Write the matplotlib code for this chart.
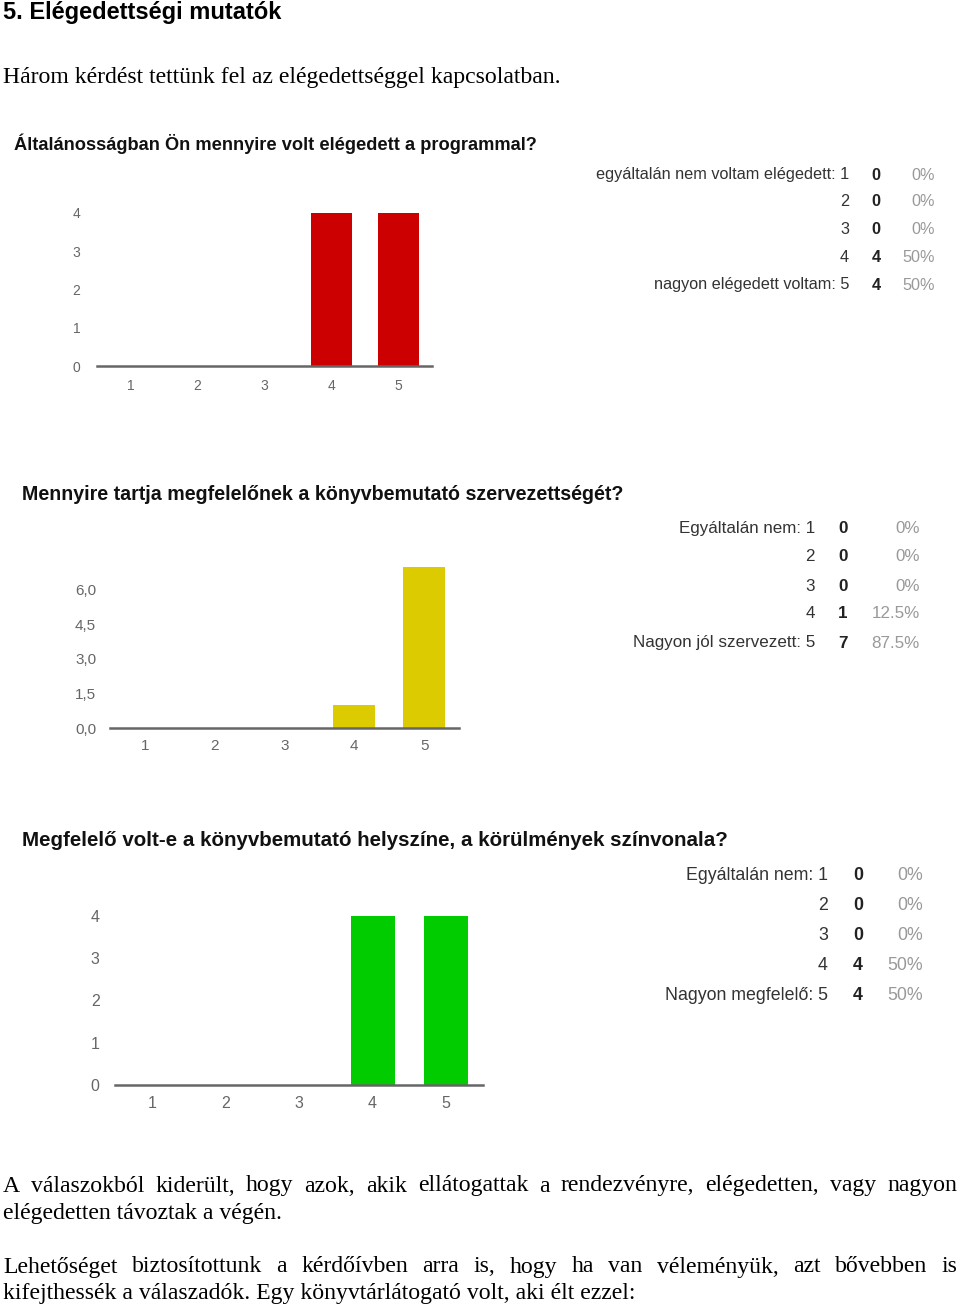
import matplotlib
matplotlib.use("Agg")
import matplotlib.pyplot as plt

# ---------------- data ----------------
heading = "5. Elégedettségi mutatók"
intro = "Három kérdést tettünk fel az elégedettséggel kapcsolatban."

categories = [1, 2, 3, 4, 5]

q1_title = "Általánosságban Ön mennyire volt elégedett a programmal?"
q1_counts = [0, 0, 0, 4, 4]
q1_low = "egyáltalán nem voltam elégedett"
q1_high = "nagyon elégedett voltam"
q1_yticks = [0, 1, 2, 3, 4]
q1_yticklabels = ["0", "1", "2", "3", "4"]

q2_title = "Mennyire tartja megfelelőnek a könyvbemutató szervezettségét?"
q2_counts = [0, 0, 0, 1, 7]
q2_low = "Egyáltalán nem"
q2_high = "Nagyon jól szervezett"
q2_yticks = [0, 1.5, 3, 4.5, 6]
q2_yticklabels = ["0,0", "1,5", "3,0", "4,5", "6,0"]

q3_title = "Megfelelő volt-e a könyvbemutató helyszíne, a körülmények színvonala?"
q3_counts = [0, 0, 0, 4, 4]
q3_low = "Egyáltalán nem"
q3_high = "Nagyon megfelelő"
q3_yticks = [0, 1, 2, 3, 4]
q3_yticklabels = ["0", "1", "2", "3", "4"]

para1 = ["A válaszokból kiderült, hogy azok, akik ellátogattak a rendezvényre, elégedetten, vagy nagyon",
         "elégedetten távoztak a végén."]
para2 = ["Lehetőséget biztosítottunk a kérdőívben arra is, hogy ha van véleményük, azt bővebben is",
         "kifejthessék a válaszadók. Egy könyvtárlátogató volt, aki élt ezzel:"]

# ---------------- layout helpers ----------------
W, H = 960, 1310
fig = plt.figure(figsize=(W / 100, H / 100), dpi=100)
fig.patch.set_facecolor("white")
renderer = fig.canvas.get_renderer()

SANS = ["Liberation Sans", "DejaVu Sans"]
SERIF = ["Liberation Serif", "DejaVu Serif"]


def fx(px):
    return px / W


def fy(py):
    return 1 - py / H


def measure(s, size, **kw):
    t = fig.text(0, 0, s, fontsize=size, **kw)
    w = t.get_window_extent(renderer).width
    t.remove()
    return w


def fit_size(s, width, **kw):
    return 10 * width / measure(s, 10, **kw)


def put(x, y, s, size, ha="left", va="center", **kw):
    return fig.text(fx(x), fy(y), s, fontsize=size, ha=ha, va=va, **kw)


def justify(x0, x1, y, line, size, **kw):
    words = line.split(" ")
    widths = [measure(w_, size, **kw) for w_ in words]
    gap = (x1 - x0 - sum(widths)) / (len(words) - 1)
    x = x0
    for w_, wd in zip(words, widths):
        put(x, y, w_, size, **kw)
        x += wd + gap


# ---------------- header text ----------------
hs = fit_size(heading, 279, family=SANS, weight="bold")
put(3, 19, heading, hs, va="baseline", family=SANS, weight="bold", color="black")
ss = fit_size(intro, 558, family=SERIF)
put(3, 78, intro, ss, family=SERIF, color="black")


# ---------------- charts ----------------
def chart(title, title_x, title_y, title_w, counts, color, box, ylim, yticks,
          yticklabels, low, high, table, tick_fs, ypad, xpad):
    ts = fit_size(title, title_w, family=SANS, weight="bold")
    put(title_x, title_y, title, ts, family=SANS, weight="bold", color="#111111")

    left, top, right, bottom = box
    ax = fig.add_axes([fx(left), fy(bottom), (right - left) / W, (bottom - top) / H])
    ax.bar(categories, counts, width=0.6, color=color, zorder=2)
    ax.set_xlim(0.5, 5.5)
    ax.set_ylim(*ylim)
    ax.set_xticks(categories)
    ax.set_xticklabels([str(c) for c in categories])
    ax.set_yticks(yticks)
    ax.set_yticklabels(yticklabels)
    for s in ["top", "right", "left"]:
        ax.spines[s].set_visible(False)
    ax.spines["bottom"].set_color("#666666")
    ax.spines["bottom"].set_linewidth(1.8)
    ax.spines["bottom"].set_zorder(3)
    ax.tick_params(length=0, labelsize=tick_fs, labelcolor="#666666")
    ax.tick_params(axis="y", pad=ypad)
    ax.tick_params(axis="x", pad=xpad)
    for lab in ax.get_xticklabels() + ax.get_yticklabels():
        lab.set_family(SANS)
    ax.set_facecolor("none")

    # summary table
    lab_right, cnt_x, pct_right, rows_y, long_w = table
    labels = [f"{low}: 1", "2", "3", "4", f"{high}: 5"]
    fs = fit_size(labels[0] if len(labels[0]) > len(labels[4]) else labels[4], long_w, family=SANS)
    total = sum(counts)
    for lab, c, y in zip(labels, counts, rows_y):
        put(lab_right, y, lab, fs, ha="right", family=SANS, color="#333333")
        put(cnt_x, y, str(c), fs, ha="center", family=SANS, weight="bold", color="#222222")
        pct = 100 * c / total
        put(pct_right, y, f"{pct:g}%", fs, ha="right", family=SANS, color="#999999")


chart(q1_title, 14, 144, 525, q1_counts, "#cc0000", (97, 213, 432, 366), (0, 4),
      q1_yticks, q1_yticklabels, q1_low, q1_high,
      (849, 876, 935, [175, 202, 230, 257, 285], 252), 10, 12, 9)

chart(q2_title, 22, 494, 601, q2_counts, "#dccb00", (110, 567, 459, 728), (0, 7),
      q2_yticks, q2_yticklabels, q2_low, q2_high,
      (815, 843, 920, [528, 557, 586, 614, 643], 182), 11, 10, 8)

chart(q3_title, 22, 840, 703, q3_counts, "#00cc00", (115, 916, 483, 1085), (0, 4),
      q3_yticks, q3_yticklabels, q3_low, q3_high,
      (828, 858, 923, [875, 905, 935, 965, 996], 163), 11.5, 11, 8)

# ---------------- closing paragraphs ----------------
justify(3, 957, 1186, para1[0], ss, family=SERIF, color="black")
put(3, 1213, para1[1], ss, family=SERIF, color="black")
justify(3, 957, 1267, para2[0], ss, family=SERIF, color="black")
put(3, 1294, para2[1], ss, family=SERIF, color="black")

fig.savefig("out.png", dpi=100, facecolor="white")
